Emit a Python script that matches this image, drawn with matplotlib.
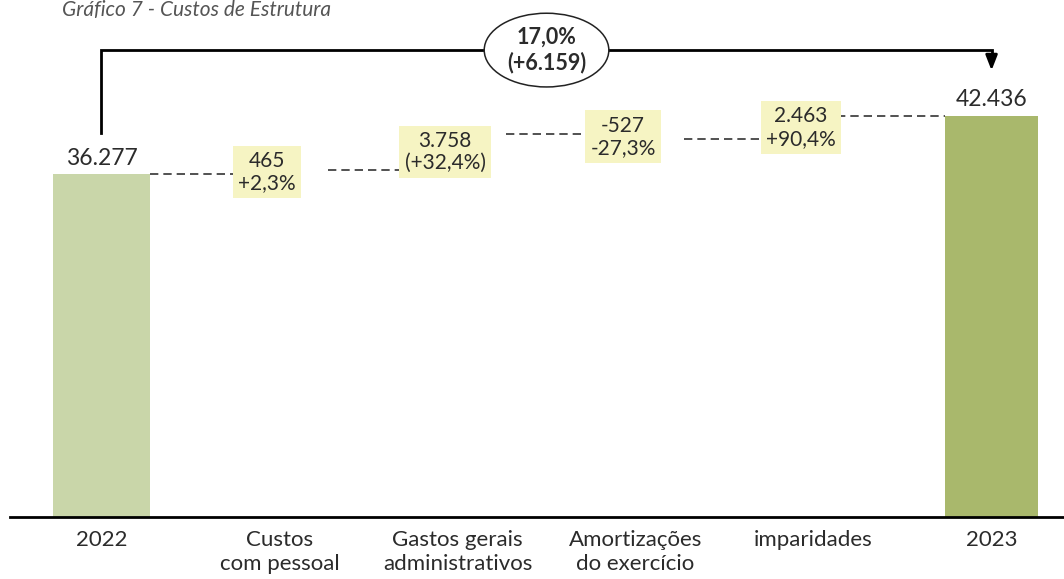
import matplotlib
matplotlib.use("Agg")
import matplotlib.pyplot as plt
from matplotlib.patches import Ellipse

plt.rcParams["font.family"] = ["Lato", "DejaVu Sans"]

# structure costs bridge, thousands of euros
categories = ["2022", "Custos\ncom pessoal", "Gastos gerais\nadministrativos",
              "Amortizações\ndo exercício", "imparidades", "2023"]
start_total = 36277
end_total = 42436
deltas = [465, 3758, -527, 2463]
delta_labels = ["465\n+2,3%", "3.758\n(+32,4%)", "-527\n-27,3%", "2.463\n+90,4%"]

C_2022 = "#c9d6a9"
C_2023 = "#a9b86c"
BOX = "#f6f4c3"
INK = "#2b2b2b"


def fmt(v):
    return f"{v:,}".replace(",", ".")


fig = plt.figure(figsize=(10.64, 5.79), dpi=100)
ax = fig.add_axes([10 / 1064, 62 / 579, 1054 / 1064, 517 / 579])
ax.set_xlim(-0.514, 5.407)
ax.set_ylim(0, 54700)

x = list(range(len(categories)))
ax.bar(x[0], start_total, width=0.54, color=C_2022, zorder=2)
ax.bar(x[-1], end_total, width=0.52, color=C_2023, zorder=2)
for xi, v in ((x[0], start_total), (x[-1], end_total)):
    ax.annotate(fmt(v), (xi, v), xytext=(0, 4), textcoords="offset points",
                ha="center", va="bottom", fontsize=16.5, color=INK)

# running totals -> dashed connectors and floating labels
level = start_total
for i, (d, lab) in enumerate(zip(deltas, delta_labels)):
    ax.plot([x[i] + 0.27, x[i + 1] - 0.2], [level, level], ls=(0, (5, 3)),
            color="#333333", lw=1.2, zorder=1)
    ax.text(x[i + 1] - 0.07, level + d / 2, lab, ha="center", va="center",
            fontsize=15, color=INK, linespacing=1.15, zorder=3,
            bbox=dict(boxstyle="square,pad=0.25", fc=BOX, ec="none"))
    level += d
ax.plot([x[-2] + 0.13, x[-1] - 0.26], [level, level], ls=(0, (5, 3)),
        color="#333333", lw=1.2, zorder=1)

# overall change bracket
top = 49400
change = end_total - start_total
ax.plot([x[0], x[0], x[-1], x[-1]], [40600, top, top, 48500],
        color="black", lw=2, solid_joinstyle="miter", zorder=2)
ax.annotate("", xy=(x[-1], 46950), xytext=(x[-1], 48700),
            arrowprops=dict(arrowstyle="-|>,head_length=0.9,head_width=0.35",
                            color="black", lw=2))
mid = (x[0] + x[-1]) / 2
ax.add_patch(Ellipse((mid, top), 0.70, 7800, fc="white", ec="#222222", lw=1.1, zorder=4))
pct = f"{change / start_total * 100:.1f}".replace(".", ",")
ax.text(mid, top, f"{pct}%\n(+{fmt(change)})", ha="center", va="center",
        fontsize=15.5, fontweight="bold", color=INK, linespacing=1.2, zorder=5)

ax.set_xticks(x)
ax.set_xticklabels(categories, fontsize=16, color=INK, linespacing=1.25)
ax.tick_params(axis="x", length=0, pad=9)
ax.set_yticks([])
for s in ("top", "right", "left"):
    ax.spines[s].set_visible(False)
ax.spines["bottom"].set_linewidth(2)

fig.text(62 / 1064, 1 - 16 / 579, "Gráfico 7 - Custos de Estrutura", fontsize=15,
         style="italic", color="#555555", va="baseline")

fig.savefig("out.png", dpi=100)
